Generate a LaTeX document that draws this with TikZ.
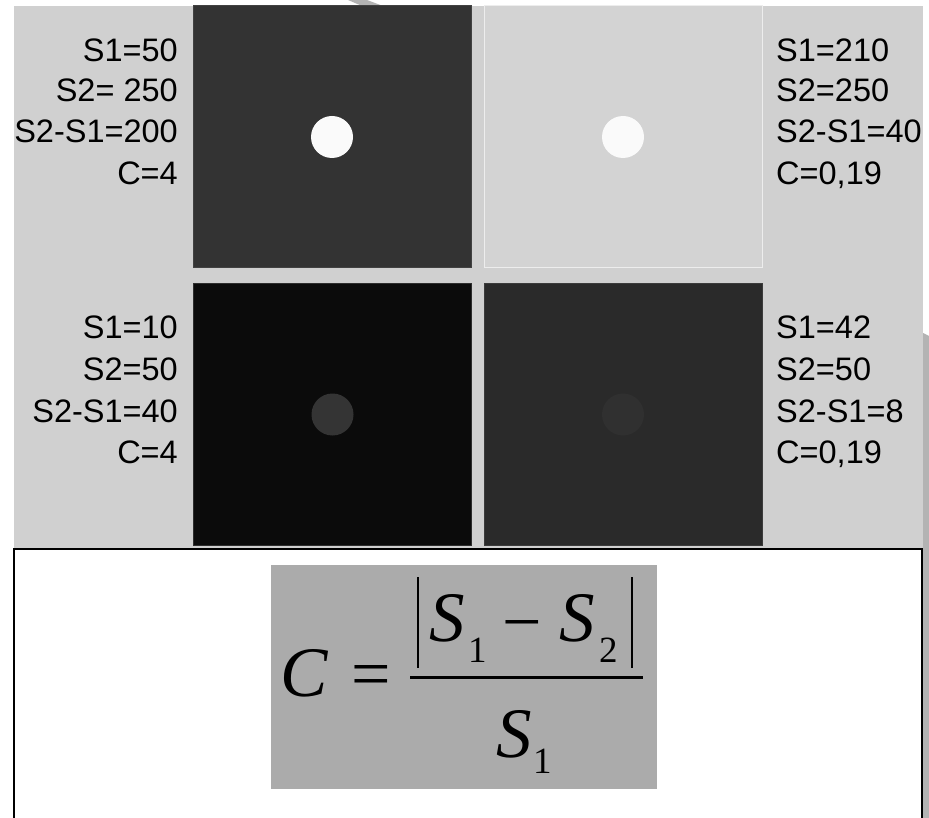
\documentclass[tikz,border=0pt]{standalone}
\usepackage{fontspec}
\setmainfont{Liberation Serif}
\newfontfamily\labelfont{Liberation Sans}
\definecolor{bggray}{HTML}{D0D0D0}
\definecolor{wmgray}{HTML}{B3B3B3}
\definecolor{sqA}{HTML}{333333}
\definecolor{sqB}{HTML}{D3D3D3}
\definecolor{sqC}{HTML}{0B0B0B}
\definecolor{sqD}{HTML}{2A2A2A}
\definecolor{dotA}{HTML}{FAFAFA}
\definecolor{dotC}{HTML}{343434}
\definecolor{dotD}{HTML}{303030}
\definecolor{fgray}{HTML}{ABABAB}
\tikzset{
  square/.style={rectangle, minimum width=278pt, minimum height=262pt, inner sep=0pt, line width=1pt},
  spot/.style={circle, minimum size=42pt, inner sep=0pt, draw=none},
  lbl/.style={inner sep=0pt, font=\labelfont\fontsize{32.5}{40}\selectfont},
  fit/.style={inner sep=0pt, font=\fontsize{71}{80}\selectfont\itshape},
  fsub/.style={inner sep=0pt, font=\fontsize{37}{40}\selectfont},
  fop/.style={inner sep=0pt, font=\fontsize{70}{80}\selectfont},
}
\begin{document}
\begin{tikzpicture}[x=1pt,y=-1pt]
\useasboundingbox (0,0) rectangle (929,818);
\fill[white] (0,0) rectangle (929,818);
% watermark remnants
\fill[wmgray] (348,0) -- (367,0) -- (383,6) -- (362,6) -- cycle;
\fill[wmgray] (923,333) -- (929,336) -- (929,818) -- (923,818) -- cycle;
% gray panel
\fill[bggray] (14,6) rectangle (923,549);
% squares
\node[square, fill=sqA, draw=sqA!80!gray] (sqTL) at (332,137) {};
\node[square, fill=sqB, draw=white!60!sqB] (sqTR) at (623,137) {};
\node[square, fill=sqC, draw=sqC!70!gray] (sqBL) at (332.5,414.5) {};
\node[square, fill=sqD, draw=sqD!80!gray] (sqBR) at (623,414.5) {};
% spots
\node[spot, fill=dotA] (cTL) at (sqTL.center) {};
\node[spot, fill=dotA] (cTR) at (sqTR.center) {};
\node[spot, fill=dotC] (cBL) at (sqBL.center) {};
\node[spot, fill=dotD] (cBR) at (sqBR.center) {};
% labels left top
\node[lbl, anchor=base east] (a1) at (178,62) {S1=50};
\node[lbl, anchor=base east] (a2) at (178,102) {S2= 250};
\node[lbl, anchor=base east] (a3) at (178,143) {S2-S1=200};
\node[lbl, anchor=base east] (a4) at (178,185) {C=4};
% labels right top
\node[lbl, anchor=base west] (b1) at (776,62) {S1=210};
\node[lbl, anchor=base west] (b2) at (776,102) {S2=250};
\node[lbl, anchor=base west] (b3) at (776,143) {S2-S1=40};
\node[lbl, anchor=base west] (b4) at (776,185) {C=0,19};
% labels left bottom
\node[lbl, anchor=base east] (c1) at (178,338) {S1=10};
\node[lbl, anchor=base east] (c2) at (178,380) {S2=50};
\node[lbl, anchor=base east] (c3) at (178,422) {S2-S1=40};
\node[lbl, anchor=base east] (c4) at (178,463) {C=4};
% labels right bottom
\node[lbl, anchor=base west] (d1) at (776,338) {S1=42};
\node[lbl, anchor=base west] (d2) at (776,380) {S2=50};
\node[lbl, anchor=base west] (d3) at (776,422) {S2-S1=8};
\node[lbl, anchor=base west] (d4) at (776,463) {C=0,19};
% white formula frame
\draw[line width=2.5pt, fill=white] (14,549) rectangle (922,840);
% formula box
\node[rectangle, fill=fgray, minimum width=386pt, minimum height=224pt, inner sep=0pt] (fbox) at (464,677) {};
% formula
\node[fit, anchor=base west] (fC) at (280,696) {C};
\node[fop, anchor=base west] (fEq) at (351,697) {=};
\node[fit, anchor=base west] (fS1) at (429,641) {S};
\node[fsub, anchor=base west] (fs1) at (468,662) {1};
\node[fop, anchor=base west] (fMinus) at (502,645) {−};
\node[fit, anchor=base west] (fS2) at (559,641) {S};
\node[fsub, anchor=base west] (fs2) at (599,662) {2};
\node[fit, anchor=base west] (fS3) at (496,757) {S};
\node[fsub, anchor=base west] (fs3) at (533,773) {1};
\coordinate (barLt) at (418,577);
\coordinate (barLb) at (418,668);
\coordinate (barRt) at (632,577);
\coordinate (barRb) at (632,668);
\coordinate (fracL) at (410,677);
\coordinate (fracR) at (643,677);
\draw[line width=2.2pt] (barLt) -- (barLb);
\draw[line width=2.2pt] (barRt) -- (barRb);
\draw[line width=3pt] (fracL) -- (fracR);
\end{tikzpicture}
\end{document}
